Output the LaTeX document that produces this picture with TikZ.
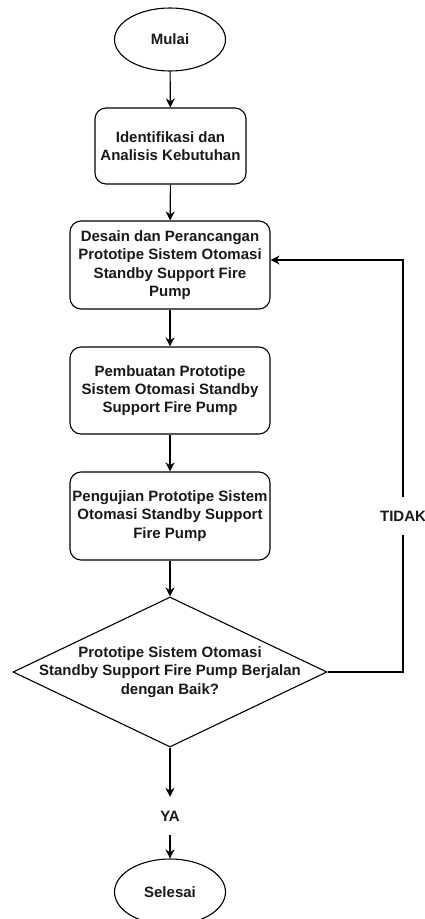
\documentclass[tikz,border=0pt]{standalone}
\usepackage{fontspec}
\setmainfont{Liberation Sans}
\usetikzlibrary{shapes.geometric,arrows.meta}
\begin{document}
\begin{tikzpicture}[x=1pt,y=-1pt,
  every node/.style={font=\fontsize{15}{18.3}\selectfont\bfseries, text=black!90, align=center},
  terminal/.style={draw, ellipse, line width=1.1pt, minimum width=111pt, minimum height=63pt, inner sep=0pt},
  procbox/.style={draw, rounded corners=11pt, line width=1.1pt, minimum width=200pt, minimum height=88pt, inner sep=0pt},
  decision/.style={draw, diamond, line width=1.1pt, minimum width=314pt, minimum height=150pt, inner sep=0pt},
  flow/.style={line width=1.1pt, -{Stealth[length=9pt,width=9pt]}}
]
\useasboundingbox (0,0) rectangle (425,919);
\node[terminal] (start) at (170,39.5) {Mulai};
\node[procbox, minimum width=151pt, minimum height=76pt] (b1) at (170.5,146) {Identifikasi dan\\Analisis Kebutuhan};
\node[procbox] (b2) at (170,265) {Desain dan Perancangan\\Prototipe Sistem Otomasi\\Standby Support Fire\\Pump};
\node[procbox, minimum height=87pt] (b3) at (170,390.5) {Pembuatan Prototipe\\Sistem Otomasi Standby\\Support Fire Pump};
\node[procbox] (b4) at (170,516) {Pengujian Prototipe Sistem\\Otomasi Standby Support\\Fire Pump};
\node[decision] (d) at (170,672) {};
\node (dt) at (d.center) {Prototipe Sistem Otomasi\\Standby Support Fire Pump Berjalan\\dengan Baik?};
\node[minimum height=38pt, inner sep=0pt] (ya) at (170,816) {YA};
\node[terminal, minimum height=66pt] (end) at (170,892) {Selesai};
\coordinate (loop) at (403,260);
\draw[flow] (start) -- (b1);
\draw[flow] (b1) -- (b2);
\draw[flow] (b2) -- (b3);
\draw[flow] (b3) -- (b4);
\draw[flow] (b4) -- (d.north);
\draw[flow] (d.south) -- (ya.north);
\draw[flow] (ya.south) -- (end.north);
\draw[flow] (d.east) -| (loop) -- (b2.east |- loop);
\node[fill=white, inner xsep=0pt, inner ysep=2pt, minimum height=38pt] (tidak) at (403,516) {TIDAK};
\end{tikzpicture}
\end{document}
